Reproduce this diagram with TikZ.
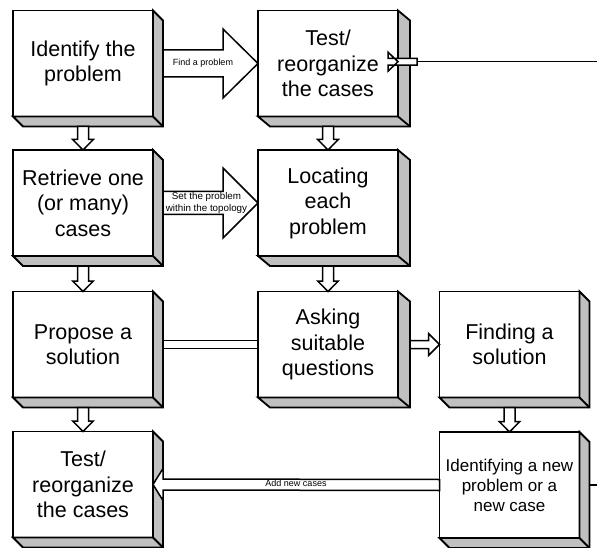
\documentclass[tikz,border=0pt]{standalone}
\usepackage{fontspec}
\setmainfont{Liberation Sans}
\usetikzlibrary{calc}
\definecolor{sidegray}{HTML}{C0C0C0}
\tikzset{
  box/.style={draw, line width=1.8pt, fill=white, minimum width=140pt,
    minimum height=106pt, inner sep=0pt, outer sep=0pt, align=center,
    font=\fontsize{21.5}{25.5}\selectfont},
  side/.style={fill=sidegray, draw, line width=1.8pt, line join=miter},
  blockarrow/.style={fill=white, draw, line width=1.5pt, line join=miter},
  lbl/.style={font=\fontsize{9}{11}\selectfont, align=center, inner sep=0pt},
  fbline/.style={line width=1.5pt},
}
% grey right and bottom faces of an extruded box: node name, horizontal depth
\newcommand\boxsides[2]{%
  \filldraw[side] (#1.north east) -- ++(#2,10) -- ($(#1.south east)+(#2,10)$)
    -- ($(#1.south west)+(#2,10)$) -- (#1.south west) -- (#1.south east) -- cycle;
  \draw[side, fill=none] (#1.south east) -- ++(#2,10);}
% horizontal block arrow: tail, tip, head length (signed), body half, head half
\newcommand\hblock[5]{%
  \filldraw[blockarrow] ($(#1)+(0,-#4)$) -- ($(#2)+({-(#3)},-#4)$)
    -- ($(#2)+({-(#3)},-#5)$) -- (#2) -- ($(#2)+({-(#3)},#5)$)
    -- ($(#2)+({-(#3)},#4)$) -- ($(#1)+(0,#4)$) -- cycle;}
% downward block arrow: tail, tip, head length, body half, head half
\newcommand\vblock[5]{%
  \filldraw[blockarrow] ($(#1)+(-#4,0)$) -- ($(#2)+(-#4,-#3)$)
    -- ($(#2)+(-#5,-#3)$) -- (#2) -- ($(#2)+(#5,-#3)$)
    -- ($(#2)+(#4,-#3)$) -- ($(#1)+(#4,0)$) -- cycle;}
\begin{document}
\begin{tikzpicture}[x=1pt,y=-1pt]
\useasboundingbox (0,0) rectangle (597,548);
\coordinate (rt) at (597,0);

% process boxes
\node[box] (b1) at (83,63.5) {Identify the\\problem};
\node[box] (b2) at (328,63.5) {Test/\\reorganize\\the cases};
\node[box] (b3) at (83,203) {Retrieve one\\(or many)\\cases};
\node[box] (b4) at (328,203) {Locating\\each\\problem};
\node[box] (b5) at (83,344.5) {Propose a\\solution};
\node[box] (b6) at (328,344.5) {Asking\\suitable\\questions};
\node[box] (b7) at (509.5,344.5) {Finding a\\solution};
\node[box] (b8) at (83,484.5) {Test/\\reorganize\\the cases};
\node[box, font=\fontsize{17}{20}\selectfont] (b9) at (509.5,485)
  {Identifying a new\\problem or a\\new case};

\boxsides{b1}{10}
\boxsides{b2}{12}
\boxsides{b3}{10}
\boxsides{b4}{12}
\boxsides{b5}{10}
\boxsides{b6}{12}
\boxsides{b7}{10}
\boxsides{b8}{10}
\boxsides{b9}{10}

% tails of the horizontal connectors (back edge of each box)
\coordinate (b1r) at ($(b1.east)+(10,0)$);
\coordinate (b3r) at ($(b3.east)+(10,0)$);
\coordinate (b5r) at ($(b5.east)+(10,0)$);
\coordinate (b6r) at ($(b6.east)+(12,0)$);
\coordinate (b9r) at ($(b9.east)+(10,0)$);
\coordinate (b2in) at ($(b2.east)+(0,-1.8)$);
\coordinate (fbin) at ($(b2.east)+(19,-1.8)$);

% horizontal connectors
\hblock{b1r}{b2.west}{35}{13.5}{34.5}
\hblock{b3r}{b4.west}{35}{11.5}{35}
\filldraw[blockarrow] ($(b5r)+(0,-4)$) rectangle ($(b6.west)+(0,4)$);
\hblock{b6r}{b7.west}{11}{4}{11}
\hblock{b9.west}{b8.east}{-10}{5.5}{16}
\hblock{fbin}{b2in}{10}{3.4}{9.5}

% feedback line leaving on the right
\draw[fbline] (fbin) -- (fbin -| rt);
\draw[fbline] (b9r) -- (b9r -| rt);

% vertical connectors
\coordinate (b1b) at ($(b1.south)+(0,10)$);
\coordinate (b2b) at ($(b2.south)+(0,10)$);
\coordinate (b3b) at ($(b3.south)+(0,10)$);
\coordinate (b4b) at ($(b4.south)+(0,10)$);
\coordinate (b5b) at ($(b5.south)+(0,10)$);
\coordinate (b7b) at ($(b7.south)+(0,10)$);
\vblock{b1b}{b3.north}{10.5}{5.5}{10.3}
\vblock{b2b}{b4.north}{10.5}{5.5}{10.3}
\vblock{b3b}{b5.north}{10.5}{5.5}{10.3}
\vblock{b4b}{b6.north}{10.5}{5.5}{10.3}
\vblock{b5b}{b8.north}{10.5}{5.5}{10.3}
\vblock{b7b}{b9.north}{10.5}{5.5}{10.3}

% connector labels
\node[lbl] (t1) at ($(b1.east)+(50,0)$) {Find a problem};
\node[lbl, font=\fontsize{9.8}{12.5}\selectfont] (t2) at ($(b3.east)+(53.5,0)$)
  {Set the problem\\within the topology};
\node[lbl] (t3) at ($(b8.east)+(143,-1.5)$) {Add new cases};
\end{tikzpicture}
\end{document}
